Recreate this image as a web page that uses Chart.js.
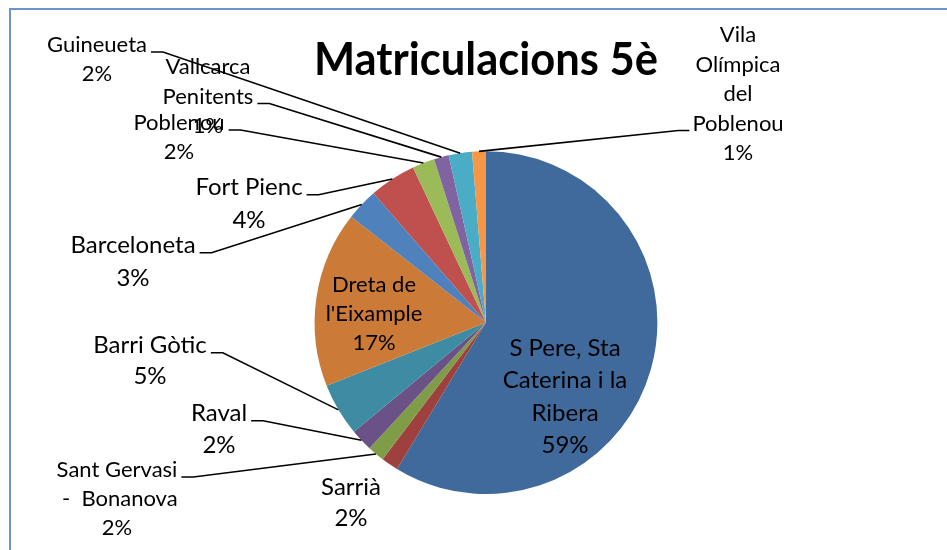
<!DOCTYPE html>
<html>
<head>
<meta charset="utf-8">
<script src="https://cdn.jsdelivr.net/npm/chart.js@4/dist/chart.umd.min.js"></script>
<style>
  html, body { margin: 0; padding: 0; background: #fff; }
  canvas { display: block; }
</style>
</head>
<body>
<canvas id="canvas" width="947" height="550"></canvas>
<script>
// barris, in pie order (clockwise from the top)
const categories = [
  ["S Pere, Sta", "Caterina i la", "Ribera"],
  ["Sarrià"],
  ["Sant Gervasi", " -  Bonanova"],
  ["Raval"],
  ["Barri Gòtic"],
  ["Dreta de", "l'Eixample"],
  ["Barceloneta"],
  ["Fort Pienc"],
  ["Poblenou"],
  ["Vallcarca", "Penitents"],
  ["Guineueta"],
  ["Vila", "Olímpica", "del", "Poblenou"]
];
const shares = [58.7, 1.6, 1.6, 2.1, 5.0, 16.6, 3.0, 4.4, 2.1, 1.4, 2.2, 1.3];
const sliceColors = [
  "#40699C", "#9E413E", "#7F9D47", "#6A5287", "#3D8CA4", "#CC7A38",
  "#4F81BD", "#C0504D", "#9BBB59", "#8064A2", "#4BACC6", "#F79646"
];

// where each data label sits (centre x, middle of first line), font size, line gap
// lead = which text line the leader line hangs from, and on which side
const labelSpots = [
  { x: 565, y: 348, size: 24, lh: 32.5 },
  { x: 351, y: 487, size: 24, lh: 31 },
  { x: 117, y: 470, size: 22, lh: 29, lead: { line: 0, side: "right" } },
  { x: 219, y: 413, size: 24, lh: 32, lead: { line: 0, side: "right" } },
  { x: 150, y: 345, size: 24, lh: 31, lead: { line: 0, side: "right" } },
  { x: 374, y: 285, size: 22, lh: 29 },
  { x: 133, y: 245, size: 24, lh: 33, lead: { line: 0, side: "right" } },
  { x: 249, y: 187, size: 24, lh: 33, lead: { line: 0, side: "right" } },
  { x: 179, y: 123, size: 22, lh: 29, lead: { line: 0, side: "right" } },
  { x: 208, y: 67, size: 22, lh: 29.5, lead: { line: 1, side: "right" } },
  { x: 97, y: 45, size: 22, lh: 29, lead: { line: 0, side: "right" } },
  { x: 738, y: 35, size: 22, lh: 29.5, lead: { line: 3, side: "left" } }
];

const frame = {
  id: "frame",
  beforeDraw(chart) {
    const ctx = chart.ctx;
    ctx.save();
    ctx.fillStyle = "#fff";
    ctx.fillRect(0, 0, chart.width, chart.height);
    ctx.strokeStyle = "#6C94CB";
    ctx.lineWidth = 2;
    ctx.strokeRect(10, 9, 1000, 1000);
    ctx.restore();
  }
};

const pieLabels = {
  id: "pieLabels",
  afterDatasetsDraw(chart) {
    const ctx = chart.ctx;
    const meta = chart.getDatasetMeta(0);
    const data = chart.data.datasets[0].data;
    const total = data.reduce((a, b) => a + b, 0);
    ctx.save();
    ctx.fillStyle = "#000";
    ctx.strokeStyle = "#000";
    ctx.lineWidth = 1.6;
    ctx.textAlign = "center";
    ctx.textBaseline = "middle";
    meta.data.forEach((arc, i) => {
      const spot = labelSpots[i];
      const lines = chart.data.labels[i].concat(Math.round(data[i] / total * 100) + "%");
      ctx.font = spot.size + "px Lato";
      lines.forEach((t, k) => ctx.fillText(t, spot.x, spot.y + k * spot.lh));
      if (!spot.lead) return;
      const p = arc.getProps(["x", "y", "startAngle", "endAngle", "outerRadius"], true);
      const mid = (p.startAngle + p.endAngle) / 2;
      const ex = p.x + Math.cos(mid) * p.outerRadius;
      const ey = p.y + Math.sin(mid) * p.outerRadius;
      const w = ctx.measureText(lines[spot.lead.line]).width;
      const ly = spot.y + spot.lead.line * spot.lh + 0.32 * spot.size;
      let x0, x1;
      if (spot.lead.side === "right") {
        x0 = spot.x + w / 2 + 4;
        x1 = x0 + 12;
      } else {
        x0 = spot.x - w / 2 - 3;
        x1 = x0 - 11;
      }
      ctx.beginPath();
      ctx.moveTo(x0, ly);
      ctx.lineTo(x1, ly);
      ctx.lineTo(ex, ey);
      ctx.stroke();
    });
    ctx.restore();
  }
};

new Chart(document.getElementById("canvas").getContext("2d"), {
  type: "pie",
  data: {
    labels: categories,
    datasets: [
      {
        data: shares,
        backgroundColor: sliceColors,
        borderWidth: 0,
        hoverOffset: 0
      }
    ]
  },
  options: {
    responsive: false,
    animation: false,
    events: [],
    devicePixelRatio: 1,
    layout: {
      padding: { left: 314, right: 289, top: 10, bottom: 56 }
    },
    plugins: {
      legend: { display: false },
      tooltip: { enabled: false },
      title: {
        display: true,
        text: "Matriculacions 5è",
        color: "#000",
        font: { family: "Lato", size: 46, weight: "bold", lineHeight: 1.2 },
        padding: { top: 23, bottom: 63 }
      }
    }
  },
  plugins: [frame, pieLabels]
});
</script>
</body>
</html>
